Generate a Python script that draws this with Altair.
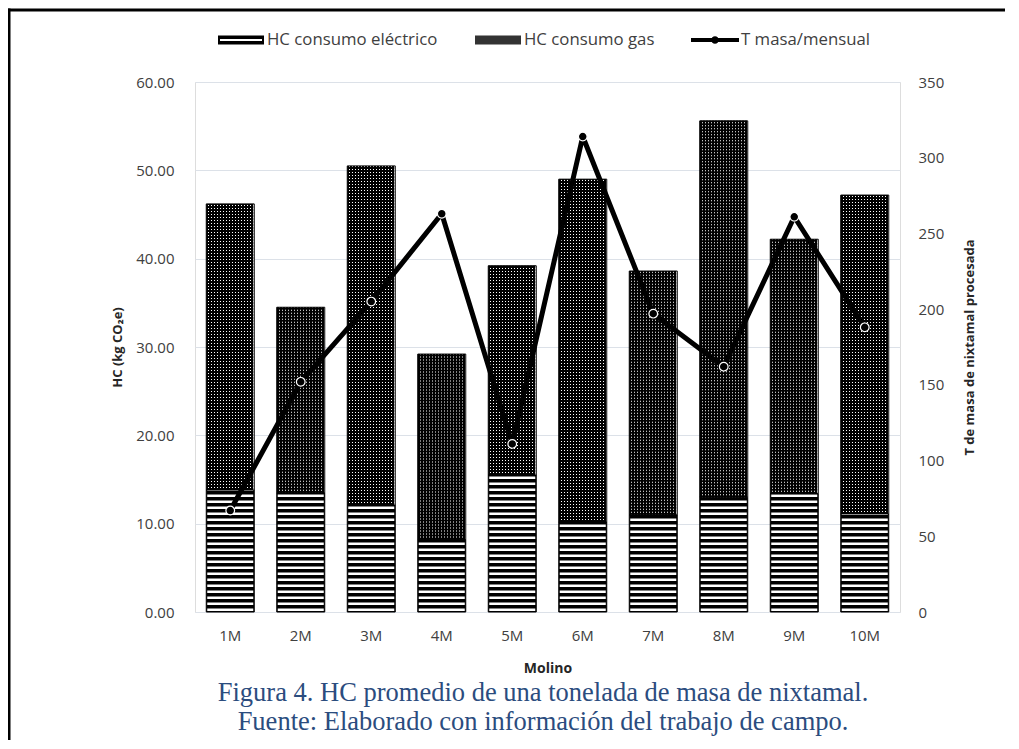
import altair as alt
import pandas as pd

# ---------------- data ----------------
molinos = ["1M", "2M", "3M", "4M", "5M", "6M", "7M", "8M", "9M", "10M"]
hc_electrico = [13.8, 13.5, 12.1, 8.2, 15.5, 10.2, 11.0, 13.0, 13.4, 11.1]
hc_total = [46.2, 34.5, 50.5, 29.2, 39.2, 49.0, 38.6, 55.6, 42.2, 47.2]
t_masa = [67, 152, 205, 263, 111, 314, 197, 162, 261, 188]

series = ["HC consumo eléctrico", "HC consumo gas", "T masa/mensual"]
left_ticks = [0, 10, 20, 30, 40, 50, 60]
right_ticks = [0, 50, 100, 150, 200, 250, 300, 350]

caption = ["Figura 4. HC promedio de una tonelada de masa de nixtamal.",
           "Fuente: Elaborado con información del trabajo de campo."]
caption_line = [0, 1]

df = pd.DataFrame({
    "molino": molinos,
    "elec": hc_electrico,
    "total": hc_total,
    "masa": t_masa,
    "cero": [0] * len(molinos),
})

FONT = "Open Sans"
TXT = "#404040"

x_axis = alt.Axis(title="Molino", labelAngle=0, ticks=False, domain=False, grid=False,
                  labelPadding=16, labelFont=FONT, labelFontSize=15, labelColor=TXT,
                  titleFont=FONT, titleFontSize=14, titleFontWeight="bold", titleColor="#262626",
                  titleY=56, titleBaseline="middle")
x_enc = alt.X("molino:N", sort=molinos, axis=x_axis,
              scale=alt.Scale(paddingInner=0, paddingOuter=0))

left_axis = alt.Axis(title="HC (kg CO₂e)", values=left_ticks, format=".2f",
                     ticks=False, domain=False, grid=True, gridColor="#dce1e8", gridWidth=1,
                     labelPadding=21, labelFont=FONT, labelFontSize=15, labelColor=TXT,
                     titleFont=FONT, titleFontSize=13, titleFontWeight="bold", titleColor="#262626",
                     titleX=-78, titleY=265, titleAngle=270, titleBaseline="middle")
right_axis = alt.Axis(title="T de masa de nixtamal procesada", values=right_ticks, format="d",
                      orient="right", ticks=False, domain=False, grid=False,
                      labelPadding=18, labelFont=FONT, labelFontSize=15, labelColor=TXT,
                      titleFont=FONT, titleFontSize=13, titleFontWeight="bold", titleColor="#262626",
                      titleX=69, titleY=265, titleAngle=270, titleBaseline="middle")

yl = alt.Scale(domain=[0, 60])
yr = alt.Scale(domain=[0, 350])

# vertical stripe gradient (black 2px / white 1px over a 48px bar)
stops = []
n = 16
for i in range(n):
    stops.append(alt.GradientStop(offset=i / n, color="black"))
    stops.append(alt.GradientStop(offset=(i + 2 / 3) / n, color="black"))
    stops.append(alt.GradientStop(offset=(i + 2 / 3) / n, color="white"))
    stops.append(alt.GradientStop(offset=(i + 1) / n, color="white"))
gas_fill = alt.LinearGradient(gradient="linear", stops=stops, x1=0, x2=1, y1=0, y2=0)

base = alt.Chart(df)

elec_bar = base.mark_bar(size=48, fill="black", stroke="black", strokeWidth=1).encode(
    x=x_enc, y=alt.Y("cero:Q", scale=yl, axis=left_axis), y2="elec:Q")
elec_stripes = base.mark_rule(color="white", strokeWidth=46, strokeDash=[2.5, 3.5],
                              strokeDashOffset=-1).encode(
    x=x_enc, y=alt.Y("cero:Q", scale=yl, axis=left_axis), y2="elec:Q")
gas_bar = base.mark_bar(size=48, fill=gas_fill, stroke="black", strokeWidth=1).encode(
    x=x_enc, y=alt.Y("elec:Q", scale=yl, axis=left_axis), y2="total:Q")
gas_rows = base.mark_rule(color="black", strokeWidth=46, strokeDash=[2, 1]).encode(
    x=x_enc, y=alt.Y("elec:Q", scale=yl, axis=left_axis), y2="total:Q")

bars = alt.layer(elec_bar, elec_stripes, gas_bar, gas_rows)

line = base.mark_line(color="black", strokeWidth=5, strokeJoin="round").encode(
    x=x_enc, y=alt.Y("masa:Q", scale=yr, axis=right_axis))
pts = base.mark_point(filled=True, fill="black", fillOpacity=1, stroke="white", strokeWidth=1.2,
                      strokeOpacity=1, size=75, shape="circle", opacity=1).encode(
    x=x_enc, y=alt.Y("masa:Q", scale=yr, axis=right_axis))
lines = alt.layer(line, pts)

# legend (symbol shapes as custom paths)
paths = [
    "M-0.92,-0.18H0.92V0.18H-0.92Z M-0.84,-0.04V0.04H0.84V-0.04Z",
    "M-0.92,-0.18H0.92V0.18H-0.92Z",
    "M-0.96,-0.08H0.96V0.08H-0.96Z M0.15,0A0.15,0.15,0,1,1,-0.15,0A0.15,0.15,0,1,1,0.15,0Z",
]
leg_colors = ["black", "#333333", "black"]
legend = alt.Legend(title=None, orient="none", legendX=21, legendY=-67, direction="horizontal",
                    labelFont=FONT, labelFontSize=16.8, labelColor=TXT, labelOffset=1,
                    labelLimit=400, columnPadding=35, symbolSize=2500, symbolStrokeWidth=0)
leg = alt.Chart(alt.Data(values=[{"s": s} for s in series])).transform_filter("false").mark_point(
    filled=True, size=2500, opacity=1).encode(
    shape=alt.Shape("s:N", scale=alt.Scale(domain=series, range=paths), legend=legend),
    fill=alt.Fill("s:N", scale=alt.Scale(domain=series, range=leg_colors), legend=legend),
)

# caption lines (real text, placed below the x-axis title)
cap_df = pd.DataFrame({"t": caption, "k": caption_line})
cap = alt.Chart(cap_df).mark_text(font="Liberation Serif", fontSize=26.5, color="#2b4c7e",
                                  align="center", baseline="middle").encode(
    text="t:N",
    x=alt.value(348),
    y=alt.Y("k:Q", scale=alt.Scale(domain=[0, 1], range=[611, 640]), axis=None),
)

# page frame (decoration)
one = alt.Data(values=[{"a": 1}])
frame_left = alt.Chart(one).mark_rule(color="black", strokeWidth=3).encode(
    x=alt.value(-186), y=alt.value(-73.5), y2=alt.value(700))
frame_top = alt.Chart(one).mark_rule(color="black", strokeWidth=3).encode(
    x=alt.value(-187.5), x2=alt.value(830), y=alt.value(-72))

chart = alt.layer(bars, lines, leg, cap, frame_left, frame_top).resolve_scale(
    y="independent"
).properties(
    width=705, height=530,
    padding={"left": 187, "top": 74, "right": 105, "bottom": 128},
    autosize=alt.AutoSizeParams(type="none"),
).configure_view(strokeWidth=0, strokeOpacity=0).configure(background="white")

chart.save("out.html", embed_options={"renderer": "svg", "actions": False})
